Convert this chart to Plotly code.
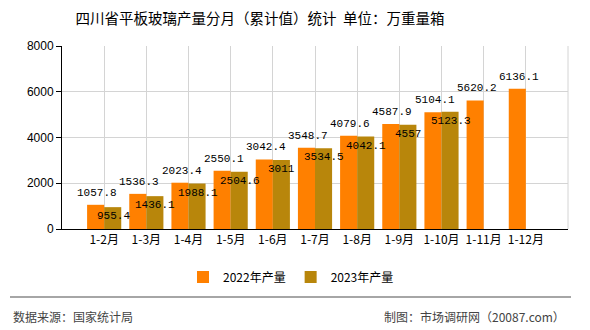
import plotly.graph_objects as go

categories = ["1-2月", "1-3月", "1-4月", "1-5月", "1-6月", "1-7月", "1-8月", "1-9月", "1-10月", "1-11月", "1-12月"]
values_2022 = [1057.8, 1536.3, 2023.4, 2550.1, 3042.4, 3548.7, 4079.6, 4587.9, 5104.1, 5620.2, 6136.1]
values_2023 = [955.4, 1436.1, 1988.1, 2504.6, 3011, 3534.5, 4042.1, 4557, 5123.3, None, None]
labels_2022 = ["1057.8", "1536.3", "2023.4", "2550.1", "3042.4", "3548.7", "4079.6", "4587.9", "5104.1", "5620.2", "6136.1"]
labels_2023 = ["955.4", "1436.1", "1988.1", "2504.6", "3011", "3534.5", "4042.1", "4557", "5123.3", "", ""]
y_ticks = [0, 2000, 4000, 6000, 8000]

C22 = "#FF8000"
C23 = "#B8860B"
CJK = "Noto Sans CJK SC"

# plot area geometry (pixels) used to place figure-level furniture
L, R, T, B = 62, 568, 46, 229
W, H = R - L, B - T


def px_x(x):
    return (x - L) / W


def px_y(y):
    return (B - y) / H


fig = go.Figure()
fig.add_trace(go.Bar(x=categories, y=values_2022, name="2022年产量", marker=dict(color=C22, line=dict(width=0))))
fig.add_trace(go.Bar(x=categories, y=values_2023, name="2023年产量", marker=dict(color=C23, line=dict(width=0))))

annotations = []
for c, v, t in zip(categories, values_2022, labels_2022):
    if v is None:
        continue
    annotations.append(dict(x=c, y=v, text=t, showarrow=False, xshift=-7, yshift=12,
                            font=dict(family="Liberation Mono", size=11, color="#000"),
                            xanchor="center", yanchor="middle"))
for c, v, t in zip(categories, values_2023, labels_2023):
    if v is None:
        continue
    annotations.append(dict(x=c, y=v, text=t, showarrow=False, xshift=9, yshift=-9,
                            font=dict(family="Liberation Mono", size=11, color="#000"),
                            xanchor="center", yanchor="middle"))

annotations.append(dict(xref="paper", yref="paper", x=px_x(11), y=px_y(316), xanchor="left", yanchor="middle",
                        text="数据来源：国家统计局", showarrow=False, font=dict(family=CJK, size=12, color="#444")))
annotations.append(dict(xref="paper", yref="paper", x=px_x(567), y=px_y(316), xanchor="right", yanchor="middle",
                        text="制图：市场调研网（20087.com）", showarrow=False, font=dict(family=CJK, size=12, color="#444")))

fig.update_layout(
    width=590, height=330,
    margin=dict(l=L, r=590 - R, t=T, b=330 - B),
    paper_bgcolor="white", plot_bgcolor="white",
    barmode="group", bargap=0.19, bargroupgap=0,
    title=dict(text="四川省平板玻璃产量分月（累计值）统计  单位：万重量箱",
               x=260 / 590, xanchor="center", y=1 - 19 / 330, yanchor="middle",
               font=dict(family=CJK, size=14.5, color="#000")),
    font=dict(family=CJK, size=12, color="#000"),
    legend=dict(orientation="h", x=291 / 590, xanchor="center", y=1 - 277 / 330, yanchor="middle",
                yref="container", xref="container",
                font=dict(family=CJK, size=12, color="#000"), itemwidth=30, traceorder="normal"),
    xaxis=dict(type="category", range=[-1, 11], showgrid=True, gridcolor="#d4d4d4", gridwidth=1,
               showline=True, linecolor="#000", linewidth=1, ticks="", tickfont=dict(family=CJK, size=12, color="#000"),
               fixedrange=True),
    yaxis=dict(range=[0, 8000], tickvals=y_ticks, showgrid=True, gridcolor="#d4d4d4", gridwidth=1,
               showline=True, linecolor="#000", linewidth=1, ticks="outside", ticklen=5, tickcolor="#000",
               tickfont=dict(family="Liberation Sans", size=12, color="#000"), zeroline=False, fixedrange=True),
    annotations=annotations,
    shapes=[
        dict(type="line", xref="x domain", yref="y domain", x0=1, x1=1, y0=0, y1=1, line=dict(color="#d4d4d4", width=1)),
        dict(type="line", xref="paper", yref="paper", x0=px_x(10), x1=px_x(571),
             y0=px_y(297), y1=px_y(297), line=dict(color="#888", width=1.5)),
    ],
)

fig.write_html("out.html")
